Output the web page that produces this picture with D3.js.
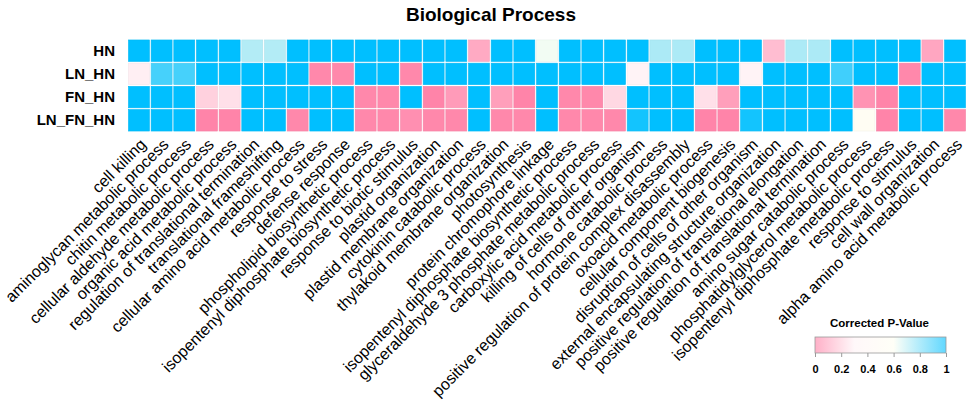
<!DOCTYPE html>
<html>
<head>
<meta charset="utf-8">
<script src="https://cdn.jsdelivr.net/npm/d3@7"></script>
<style>
  html, body { margin: 0; padding: 0; background: #fff; }
  svg { display: block; font-family: "Liberation Sans", Arial, Helvetica, sans-serif; }
</style>
</head>
<body>
<svg id="chart" width="970" height="409"></svg>
<script>
const categories = [
  "cell killing",
  "aminoglycan metabolic process",
  "chitin metabolic process",
  "cellular aldehyde metabolic process",
  "organic acid metabolic process",
  "regulation of translational termination",
  "translational frameshifting",
  "cellular amino acid metabolic process",
  "response to stress",
  "defense response",
  "phospholipid biosynthetic process",
  "isopentenyl diphosphate biosynthetic process",
  "response to biotic stimulus",
  "plastid organization",
  "plastid membrane organization",
  "cytokinin catabolic process",
  "thylakoid membrane organization",
  "photosynthesis",
  "protein chromophore linkage",
  "isopentenyl diphosphate biosynthetic process",
  "glyceraldehyde 3 phosphate metabolic process",
  "carboxylic acid metabolic process",
  "killing of cells of other organism",
  "hormone catabolic process",
  "positive regulation of protein complex disassembly",
  "oxoacid metabolic process",
  "cellular component biogenesis",
  "disruption of cells of other organism",
  "external encapsulating structure organization",
  "positive regulation of translational elongation",
  "positive regulation of translational termination",
  "amino sugar catabolic process",
  "phosphatidylglycerol metabolic process",
  "isopentenyl diphosphate metabolic process",
  "response to stimulus",
  "cell wall organization",
  "alpha amino acid metabolic process"
];

const groups = ["HN", "LN_HN", "FN_HN", "LN_FN_HN"];

const HN = [1, 1, 1, 1, 1, 0.72, 0.72, 1, 1, 1, 1, 1, 1, 1, 1, 0.11, 1, 1, 0.62, 1, 1, 1, 1, 0.73, 0.73, 1, 1, 1, 0.16, 0.73, 0.73, 1, 1, 1, 1, 0.1, 1];
const LN_HN = [0.29, 0.89, 0.89, 1, 1, 1, 1, 1, 0.02, 0.02, 1, 1, 0.02, 1, 1, 1, 1, 1, 1, 1, 1, 1, 0.31, 1, 1, 1, 1, 0.31, 1, 1, 1, 0.9, 1, 1, 0.02, 1, 1];
const FN_HN = [1, 1, 1, 0.21, 0.25, 1, 1, 1, 1, 1, 0.02, 0.02, 1, 0.01, 0.07, 1, 0.08, 0.01, 1, 0.02, 0.02, 0.23, 1, 1, 1, 0.25, 0.08, 1, 1, 1, 1, 1, 0.05, 0.01, 1, 1, 1];
const LN_FN_HN = [1, 1, 1, 0.01, 0.01, 1, 1, 0.02, 1, 1, 0.02, 0.02, 0.04, 0.02, 0.02, 1, 0.02, 0.02, 1, 0.02, 0.02, 0.02, 0.97, 1, 1, 0.01, 0.01, 0.97, 1, 1, 1, 1, 0.56, 0.01, 1, 1, 0.02];

const legendTicks = [0, 0.2, 0.4, 0.6, 0.8, 1];
const legendTickLabels = ["0", "0.2", "0.4", "0.6", "0.8", "1"];

const seriesByGroup = { HN, LN_HN, FN_HN, LN_FN_HN };
const cells = [];
groups.forEach(g => seriesByGroup[g].forEach((v, i) => cells.push({ g, i, v })));

const svg = d3.select("#chart");

const plotLeft = 128, plotRight = 966, plotTop = 39.5, plotBottom = 131.5;

const x = d3.scaleBand().domain(d3.range(categories.length)).range([plotLeft, plotRight]).paddingInner(0.075).paddingOuter(0.02);
const y = d3.scaleBand().domain(groups).range([plotTop, plotBottom]).paddingInner(0.075).paddingOuter(0.02);

const color = d3.scaleLinear()
  .domain([0, 0.3, 0.6, 1])
  .range(["#ff80a6", "#fff3f6", "#fffff2", "#00bfff"])
  .interpolate(d3.interpolateRgb)
  .clamp(true);

// Title
svg.append("text")
  .attr("x", 491).attr("y", 20.5)
  .attr("text-anchor", "middle")
  .attr("font-weight", "bold")
  .attr("font-size", "19px")
  .attr("fill", "#000")
  .text("Biological Process");

// Cells
svg.append("g").selectAll("rect").data(cells).join("rect")
  .attr("x", d => x(d.i))
  .attr("y", d => y(d.g))
  .attr("width", x.bandwidth())
  .attr("height", y.bandwidth())
  .attr("fill", d => color(d.v))
  .attr("stroke", d => d3.color(color(d.v)).darker(0.12))
  .attr("stroke-width", 0.6);

// X axis labels
const xAxis = svg.append("g")
  .attr("transform", `translate(0,${plotBottom})`)
  .call(d3.axisBottom(x).tickSize(0).tickFormat(i => categories[i]));
xAxis.select(".domain").remove();
xAxis.selectAll("text")
  .attr("x", null).attr("y", null).attr("dy", null)
  .attr("text-anchor", "end")
  .attr("transform", "translate(8,14) rotate(-45)")
  .attr("font-size", "16px")
  .attr("font-family", "'Liberation Sans', Arial, sans-serif")
  .attr("fill", "#000");

// Y axis labels
const yAxis = svg.append("g")
  .attr("transform", `translate(${plotLeft},0)`)
  .call(d3.axisLeft(y).tickSize(0).tickPadding(13));
yAxis.select(".domain").remove();
yAxis.selectAll("text")
  .attr("font-size", "15px")
  .attr("font-weight", "bold")
  .attr("font-family", "'Liberation Sans', Arial, sans-serif")
  .attr("fill", "#000");

// Legend
const lx0 = 815, lx1 = 946, ly0 = 337, lh = 16;
const lscale = d3.scaleLinear().domain([0, 1]).range([lx0, lx1]);
const defs = svg.append("defs");
const grad = defs.append("linearGradient").attr("id", "lg").attr("x1", "0%").attr("x2", "100%");
d3.range(0, 1.0001, 0.05).forEach(t => {
  grad.append("stop").attr("offset", (t * 100) + "%").attr("stop-color", color(t));
});
svg.append("text")
  .attr("x", (lx0 + lx1) / 2 - 1).attr("y", 327)
  .attr("text-anchor", "middle")
  .attr("font-weight", "bold")
  .attr("font-size", "11.5px")
  .attr("fill", "#000")
  .text("Corrected P-Value");
svg.append("rect")
  .attr("x", lx0).attr("y", ly0).attr("width", lx1 - lx0).attr("height", lh)
  .attr("fill", "url(#lg)").attr("fill-opacity", 0.62)
  .attr("stroke", "#9a9a9a").attr("stroke-width", 0.8);
const lAxis = svg.append("g")
  .attr("transform", `translate(0,${ly0 + lh})`)
  .call(d3.axisBottom(lscale).tickValues(legendTicks).tickSize(4).tickPadding(8)
    .tickFormat((d, i) => legendTickLabels[i]));
lAxis.select(".domain").remove();
lAxis.selectAll("line").attr("stroke", "#9a9a9a");
lAxis.selectAll("text")
  .attr("font-size", "11px")
  .attr("font-weight", "bold")
  .attr("font-family", "'Liberation Sans', Arial, sans-serif")
  .attr("fill", "#000");
</script>
</body>
</html>
